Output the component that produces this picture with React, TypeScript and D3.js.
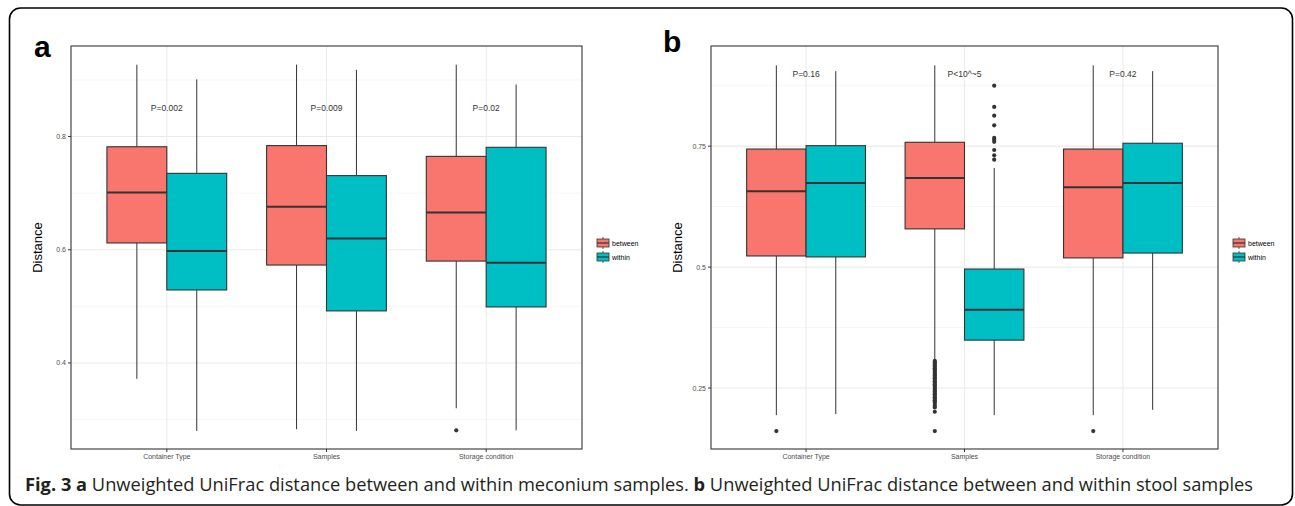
import React from "react";
import * as d3 from "d3";

// categories and groups shared by both panels
const categories = ["Container Type", "Samples", "Storage condition"];
const groups = ["between", "within"];
const groupColors = ["#F8766D", "#00BFC4"];

// box stats: [lower whisker, Q1, median, Q3, upper whisker] per category
const meconiumBetween = [
  [0.372, 0.612, 0.701, 0.782, 0.927],
  [0.283, 0.573, 0.676, 0.784, 0.927],
  [0.32, 0.58, 0.666, 0.765, 0.927],
];
const meconiumWithin = [
  [0.28, 0.529, 0.598, 0.735, 0.901],
  [0.28, 0.492, 0.62, 0.731, 0.918],
  [0.281, 0.499, 0.577, 0.781, 0.892],
];
const meconiumBetweenOutliers = [[], [], [0.281]];
const meconiumWithinOutliers = [[], [], []];
const meconiumP = ["P=0.002", "P=0.009", "P=0.02"];
const meconiumTicks = [0.4, 0.6, 0.8];
const meconiumMinor = [0.3, 0.5, 0.7, 0.9];

const stoolBetween = [
  [0.194, 0.523, 0.657, 0.744, 0.917],
  [0.309, 0.579, 0.684, 0.758, 0.917],
  [0.194, 0.519, 0.665, 0.744, 0.917],
];
const stoolWithin = [
  [0.196, 0.521, 0.674, 0.751, 0.905],
  [0.194, 0.349, 0.412, 0.496, 0.705],
  [0.205, 0.529, 0.674, 0.756, 0.905],
];
const stoolBetweenOutliers = [
  [0.161],
  [0.306, 0.303, 0.3, 0.297, 0.294, 0.291, 0.288, 0.285, 0.282, 0.279, 0.276, 0.273,
   0.27, 0.267, 0.264, 0.261, 0.258, 0.255, 0.252, 0.249, 0.246, 0.243, 0.24, 0.237,
   0.234, 0.231, 0.228, 0.225, 0.222, 0.219, 0.214, 0.21, 0.201, 0.161],
  [0.161],
];
const stoolWithinOutliers = [
  [],
  [0.875, 0.831, 0.813, 0.793, 0.767, 0.763, 0.759, 0.742, 0.731, 0.722],
  [],
];
const stoolP = ["P=0.16", "P<10^~5", "P=0.42"];
const stoolTicks = [0.25, 0.5, 0.75];
const stoolMinor = [0.375, 0.625, 0.875];

const font = "'Liberation Sans', Arial, sans-serif";
const ink = "#333333";

function Panel({ left, right, top, bottom, domain, ticks, minor, between, within, outB, outW, pLabels, pValue, letter, letterX, letterY, legendX }) {
  const x = d3.scalePoint().domain(categories).range([left, right]).padding(0.6);
  const y = d3.scaleLinear().domain(domain).range([bottom, top]);
  const step = x.step();
  const bw = step * 0.375;
  const series = [between, within];
  const outs = [outB, outW];
  const tickFmt = (d) => String(d);

  return (
    <g>
      <text x={letterX} y={letterY} fontFamily={font} fontWeight="bold" fontSize={30} fill="#000">{letter}</text>
      <rect x={left} y={top} width={right - left} height={bottom - top} fill="#fff" />
      {minor.map((v) => (
        <line key={"m" + v} x1={left} x2={right} y1={y(v)} y2={y(v)} stroke="#f2f2f2" strokeWidth={0.7} />
      ))}
      {ticks.map((v) => (
        <line key={"g" + v} x1={left} x2={right} y1={y(v)} y2={y(v)} stroke="#ebebeb" strokeWidth={1.1} />
      ))}
      {categories.map((c) => (
        <line key={"gx" + c} x1={x(c)} x2={x(c)} y1={top} y2={bottom} stroke="#ebebeb" strokeWidth={1.1} />
      ))}
      {categories.map((c, ci) =>
        series.map((s, gi) => {
          const [lo, q1, med, q3, hi] = s[ci];
          const x0 = x(c) + (gi - 1) * bw;
          const cx = x0 + bw / 2;
          return (
            <g key={c + gi}>
              <line x1={cx} x2={cx} y1={y(hi)} y2={y(q3)} stroke={ink} strokeWidth={1} />
              <line x1={cx} x2={cx} y1={y(q1)} y2={y(lo)} stroke={ink} strokeWidth={1} />
              <rect x={x0} y={y(q3)} width={bw} height={y(q1) - y(q3)} fill={groupColors[gi]} stroke={ink} strokeWidth={1.1} />
              <line x1={x0} x2={x0 + bw} y1={y(med)} y2={y(med)} stroke={ink} strokeWidth={2} />
              {outs[gi][ci].map((v, k) => (
                <circle key={k} cx={cx} cy={y(v)} r={2.1} fill={ink} />
              ))}
            </g>
          );
        })
      )}
      {categories.map((c, ci) => (
        <text key={"p" + c} x={x(c)} y={y(pValue) + 3} textAnchor="middle" fontFamily={font} fontSize={8.5} fill={ink}>
          {pLabels[ci]}
        </text>
      ))}
      <rect x={left} y={top} width={right - left} height={bottom - top} fill="none" stroke={ink} strokeWidth={1.1} />
      {ticks.map((v) => (
        <g key={"t" + v}>
          <line x1={left - 3} x2={left} y1={y(v)} y2={y(v)} stroke={ink} strokeWidth={1} />
          <text x={left - 5} y={y(v) + 2.5} textAnchor="end" fontFamily={font} fontSize={7} fill="#4d4d4d">{tickFmt(v)}</text>
        </g>
      ))}
      {categories.map((c) => (
        <g key={"xt" + c}>
          <line x1={x(c)} x2={x(c)} y1={bottom} y2={bottom + 3} stroke={ink} strokeWidth={1} />
          <text x={x(c)} y={bottom + 10} textAnchor="middle" fontFamily={font} fontSize={7} fill="#4d4d4d">{c}</text>
        </g>
      ))}
      <text transform={`translate(${left - 29},${(top + bottom) / 2}) rotate(-90)`} textAnchor="middle" fontFamily={font} fontSize={13} fill="#000">
        Distance
      </text>
      {groups.map((g, gi) => {
        const cy = 243 + gi * 14;
        return (
          <g key={"lg" + g}>
            <line x1={legendX + 6} x2={legendX + 6} y1={cy - 6} y2={cy + 6} stroke={ink} strokeWidth={0.8} />
            <rect x={legendX} y={cy - 4} width={12} height={8} fill={groupColors[gi]} stroke={ink} strokeWidth={0.8} />
            <line x1={legendX} x2={legendX + 12} y1={cy} y2={cy} stroke={ink} strokeWidth={1.2} />
            <text x={legendX + 15} y={cy + 2.5} fontFamily={font} fontSize={7} fill="#000">{g}</text>
          </g>
        );
      })}
    </g>
  );
}

export default function App() {
  return (
    <svg width={1295} height={506} style={{ position: "absolute", left: 0, top: 0 }}>
      <rect x={0} y={0} width={1295} height={506} fill="#fff" />
      <rect x={9.5} y={8} width={1283} height={497} rx={11} fill="none" stroke="#000" strokeWidth={1.6} />
      <Panel left={71} right={582} top={46} bottom={449} domain={[0.248, 0.96]} ticks={meconiumTicks} minor={meconiumMinor}
        between={meconiumBetween} within={meconiumWithin} outB={meconiumBetweenOutliers} outW={meconiumWithinOutliers}
        pLabels={meconiumP} pValue={0.85} letter="a" letterX={34} letterY={57} legendX={597} />
      <Panel left={711} right={1218} top={46} bottom={449} domain={[0.124, 0.957]} ticks={stoolTicks} minor={stoolMinor}
        between={stoolBetween} within={stoolWithin} outB={stoolBetweenOutliers} outW={stoolWithinOutliers}
        pLabels={stoolP} pValue={0.899} letter="b" letterX={663} letterY={52} legendX={1233} />
      <text x={25} y={491} fontFamily="'Open Sans', sans-serif" fontSize={17.6} fill="#231f20" textLength={1228} lengthAdjust="spacingAndGlyphs">
        <tspan fontWeight="bold">Fig. 3 a</tspan>
        <tspan> Unweighted UniFrac distance between and within meconium samples. </tspan>
        <tspan fontWeight="bold">b</tspan>
        <tspan> Unweighted UniFrac distance between and within stool samples</tspan>
      </text>
    </svg>
  );
}
